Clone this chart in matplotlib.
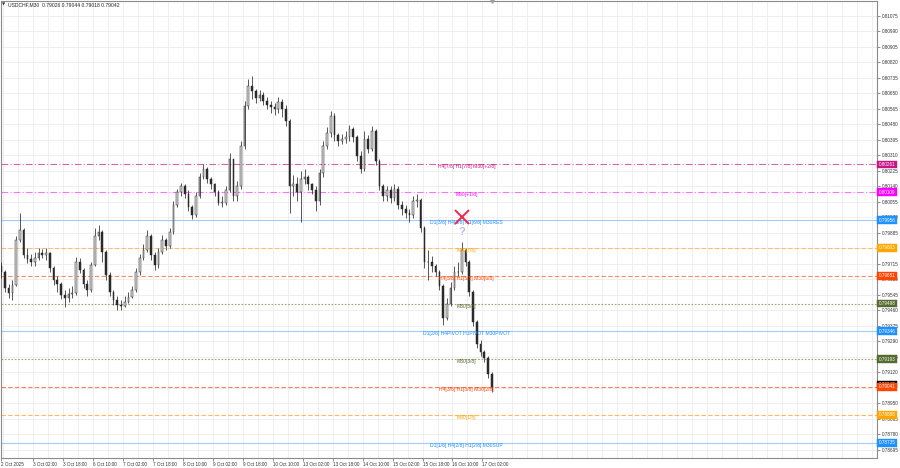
import matplotlib
matplotlib.use("Agg")
import matplotlib.pyplot as plt
from matplotlib.transforms import offset_copy, blended_transform_factory

plt.rcParams['font.family'] = ['Liberation Sans', 'DejaVu Sans']

# ---------------- data ----------------
symbol = "USDCHF,M30"
last_bar_ohlc = [0.79026, 0.79044, 0.79018, 0.79042]

# 2-hour candles (4 x M30 bars)
opens = [0.79702, 0.79669, 0.79582, 0.79554, 0.79598, 0.79844, 0.79899, 0.79762, 0.79740, 0.79724,
         0.79746, 0.79773, 0.79762, 0.79773, 0.79691, 0.79625, 0.79604, 0.79543, 0.79527, 0.79549,
         0.79554, 0.79724, 0.79680, 0.79604, 0.79571, 0.79707, 0.79866, 0.79888, 0.79779, 0.79653,
         0.79560, 0.79516, 0.79489, 0.79483, 0.79505, 0.79532, 0.79571, 0.79669, 0.79746, 0.79790,
         0.79866, 0.79762, 0.79707, 0.79779, 0.79844, 0.79811, 0.79888, 0.80036, 0.80107, 0.80140,
         0.80096, 0.80025, 0.79986, 0.80085, 0.80194, 0.80238, 0.80183, 0.80151, 0.80107, 0.80052,
         0.80052, 0.80118, 0.80293, 0.80090, 0.80145, 0.80364, 0.80583, 0.80692, 0.80665, 0.80626,
         0.80643, 0.80610, 0.80588, 0.80577, 0.80566, 0.80605, 0.80566, 0.80501, 0.80145, 0.80156,
         0.80107, 0.80183, 0.80194, 0.80151, 0.80118, 0.80063, 0.80216, 0.80364, 0.80435, 0.80528,
         0.80424, 0.80391, 0.80402, 0.80413, 0.80457, 0.80413, 0.80309, 0.80238, 0.80402, 0.80347,
         0.80446, 0.80282, 0.80145, 0.80085, 0.80118, 0.80074, 0.80128, 0.80041, 0.80019, 0.79992,
         0.79981, 0.80063, 0.80068, 0.79910, 0.79724, 0.79724, 0.79702, 0.79669, 0.79593, 0.79418,
         0.79494, 0.79582, 0.79669, 0.79669, 0.79790, 0.79724, 0.79560, 0.79396, 0.79275, 0.79232,
         0.79199, 0.79111]
closes = [0.79669, 0.79582, 0.79554, 0.79598, 0.79844, 0.79899, 0.79762, 0.79740, 0.79724, 0.79746,
          0.79773, 0.79762, 0.79773, 0.79691, 0.79625, 0.79604, 0.79543, 0.79527, 0.79549, 0.79554,
          0.79724, 0.79680, 0.79604, 0.79571, 0.79707, 0.79866, 0.79888, 0.79779, 0.79653, 0.79560,
          0.79516, 0.79489, 0.79483, 0.79505, 0.79532, 0.79571, 0.79669, 0.79746, 0.79790, 0.79866,
          0.79762, 0.79707, 0.79779, 0.79844, 0.79811, 0.79888, 0.80036, 0.80107, 0.80140, 0.80096,
          0.80025, 0.79986, 0.80085, 0.80194, 0.80238, 0.80183, 0.80151, 0.80107, 0.80052, 0.80052,
          0.80118, 0.80293, 0.80090, 0.80145, 0.80364, 0.80583, 0.80692, 0.80665, 0.80626, 0.80643,
          0.80610, 0.80588, 0.80577, 0.80566, 0.80605, 0.80566, 0.80501, 0.80145, 0.80156, 0.80107,
          0.80183, 0.80194, 0.80151, 0.80118, 0.80063, 0.80216, 0.80364, 0.80435, 0.80528, 0.80424,
          0.80391, 0.80402, 0.80413, 0.80457, 0.80413, 0.80309, 0.80238, 0.80402, 0.80347, 0.80446,
          0.80282, 0.80145, 0.80085, 0.80118, 0.80074, 0.80128, 0.80041, 0.80019, 0.79992, 0.79981,
          0.80063, 0.80068, 0.79910, 0.79724, 0.79724, 0.79702, 0.79669, 0.79593, 0.79418, 0.79494,
          0.79582, 0.79669, 0.79669, 0.79790, 0.79724, 0.79560, 0.79396, 0.79275, 0.79232, 0.79199,
          0.79111, 0.79042]
highs = [0.79724, 0.79680, 0.79604, 0.79625, 0.79866, 0.79992, 0.79910, 0.79800, 0.79768, 0.79779,
         0.79800, 0.79795, 0.79800, 0.79779, 0.79702, 0.79647, 0.79614, 0.79571, 0.79582, 0.79593,
         0.79751, 0.79746, 0.79691, 0.79625, 0.79724, 0.79910, 0.79926, 0.79899, 0.79790, 0.79669,
         0.79571, 0.79538, 0.79516, 0.79538, 0.79560, 0.79593, 0.79691, 0.79768, 0.79822, 0.79899,
         0.79877, 0.79779, 0.79800, 0.79872, 0.79855, 0.79910, 0.80063, 0.80128, 0.80161, 0.80151,
         0.80118, 0.80041, 0.80107, 0.80216, 0.80265, 0.80249, 0.80194, 0.80161, 0.80118, 0.80085,
         0.80145, 0.80326, 0.80293, 0.80172, 0.80391, 0.80610, 0.80730, 0.80747, 0.80676, 0.80670,
         0.80659, 0.80632, 0.80610, 0.80599, 0.80632, 0.80621, 0.80588, 0.80512, 0.80205, 0.80194,
         0.80227, 0.80238, 0.80205, 0.80161, 0.80140, 0.80238, 0.80391, 0.80468, 0.80555, 0.80544,
         0.80435, 0.80430, 0.80446, 0.80479, 0.80468, 0.80424, 0.80337, 0.80446, 0.80424, 0.80473,
         0.80457, 0.80293, 0.80151, 0.80140, 0.80140, 0.80151, 0.80140, 0.80063, 0.80036, 0.80019,
         0.80085, 0.80096, 0.80074, 0.79921, 0.79790, 0.79757, 0.79713, 0.79680, 0.79604, 0.79527,
         0.79614, 0.79702, 0.79724, 0.79833, 0.79800, 0.79735, 0.79571, 0.79407, 0.79297, 0.79243,
         0.79210, 0.79122]
lows = [0.79636, 0.79560, 0.79527, 0.79516, 0.79593, 0.79833, 0.79746, 0.79718, 0.79702, 0.79702,
        0.79735, 0.79746, 0.79735, 0.79669, 0.79598, 0.79560, 0.79521, 0.79478, 0.79505, 0.79527,
        0.79543, 0.79664, 0.79582, 0.79538, 0.79560, 0.79702, 0.79844, 0.79724, 0.79625, 0.79538,
        0.79489, 0.79461, 0.79461, 0.79478, 0.79500, 0.79527, 0.79560, 0.79653, 0.79735, 0.79779,
        0.79735, 0.79680, 0.79691, 0.79768, 0.79790, 0.79800, 0.79877, 0.80025, 0.80090, 0.80074,
        0.80003, 0.79959, 0.79975, 0.80074, 0.80183, 0.80161, 0.80128, 0.80085, 0.80036, 0.80030,
        0.80036, 0.80107, 0.80063, 0.80063, 0.80128, 0.80347, 0.80566, 0.80621, 0.80599, 0.80610,
        0.80588, 0.80566, 0.80544, 0.80533, 0.80544, 0.80522, 0.80473, 0.79997, 0.80085, 0.80063,
        0.79943, 0.80151, 0.80118, 0.80096, 0.80008, 0.80041, 0.80194, 0.80347, 0.80413, 0.80391,
        0.80364, 0.80375, 0.80380, 0.80391, 0.80386, 0.80282, 0.80216, 0.80227, 0.80326, 0.80337,
        0.80255, 0.80118, 0.80063, 0.80063, 0.80052, 0.80063, 0.80019, 0.79986, 0.79965, 0.79943,
        0.79965, 0.80030, 0.79888, 0.79691, 0.79625, 0.79669, 0.79647, 0.79571, 0.79379, 0.79407,
        0.79483, 0.79571, 0.79647, 0.79658, 0.79702, 0.79538, 0.79374, 0.79253, 0.79210, 0.79177,
        0.79089, 0.79013]

time_labels = ["3 Oct 02:00", "3 Oct 18:00", "6 Oct 10:00", "7 Oct 02:00", "7 Oct 18:00",
               "8 Oct 10:00", "9 Oct 02:00", "9 Oct 18:00", "10 Oct 10:00", "13 Oct 02:00",
               "13 Oct 18:00", "14 Oct 10:00", "15 Oct 02:00", "15 Oct 18:00", "16 Oct 10:00",
               "17 Oct 02:00"]
first_time_label = "2 Oct 2025"

price_ticks = [0.81075, 0.80990, 0.80905, 0.80820, 0.80735, 0.80650, 0.80565, 0.80480, 0.80395,
               0.80310, 0.80225, 0.80140, 0.80055, 0.79970, 0.79885, 0.79800, 0.79715, 0.79630,
               0.79545, 0.79460, 0.79375, 0.79290, 0.79205, 0.79120, 0.79035, 0.78950, 0.78865,
               0.78780, 0.78695]

levels = [0.80261, 0.80109, 0.79956, 0.79803, 0.79651, 0.79498, 0.79346, 0.79193, 0.79041,
          0.78888, 0.78735]
level_names = ["H4[7/8] H1[7/8] M30[+2/8]", "M30[+1/8]", "D1[3/8] H4[6/8] H1[6/8] M30RES",
               "M30[7/8]", "H4[5/8] H1[5/8] M30[6/8]", "M30[5/8]",
               "D1[2/8] H4PIVOT H1PIVOT M30PIVOT", "M30[3/8]", "H4[3/8] H1[3/8] M30[2/8]",
               "M30[1/8]", "D1[1/8] H4[2/8] H1[2/8] M30SUP"]

# ---------------- styles ----------------
level_colors = ["#c71585", "#ff00ff", "#1e90ff", "#ffa500", "#ff4500", "#556b2f",
                "#1e90ff", "#556b2f", "#ff4500", "#ffa500", "#1e90ff"]
line_colors = ["#e060a8", "#ff70ff", "#9fcbff", "#ffbb70", "#ff8868", "#9aa57a",
               "#9fcbff", "#9aa57a", "#ff8060", "#ffb860", "#9fcbff"]
line_styles = [(0, (6, 2, 1, 2)), (0, (6, 2, 1, 2)), '-', (0, (4, 2)), (0, (4, 2)), (0, (1.5, 1.5)),
               '-', (0, (1.5, 1.5)), (0, (4, 2)), (0, (4, 2)), '-']

BARS_PER_CANDLE = 4
FIRST_BAR = -34           # bar index of first candle relative to first time label
LABEL_STEP = 32           # bars between time labels
PX_PER_BAR = 0.9375

fig = plt.figure(figsize=(9, 4.68), dpi=100)
fig.patch.set_facecolor('white')
ax = fig.add_axes([1 / 900, 10 / 468, 876 / 900, 457 / 468])
ax.set_facecolor('white')

x_left = -32 / PX_PER_BAR
x_right = (877 - 32) / PX_PER_BAR
ax.set_xlim(x_left, x_right)
ax.set_ylim(0.78651, 0.81157)

# grid
grid_c = '#ececec'
gx = -32
while gx < x_right:
    ax.axvline(gx, color=grid_c, lw=0.6, zorder=0)
    gx += 16
for p in price_ticks:
    ax.axhline(p, color=grid_c, lw=0.6, zorder=0)

# levels
for lv, lc, ls in zip(levels, line_colors, line_styles):
    ax.axhline(lv, color=lc, lw=0.8, ls=ls, zorder=1)

# candles
xs = [FIRST_BAR + BARS_PER_CANDLE * j for j in range(len(closes))]
ax.vlines(xs, lows, highs, color='#2a2a2a', lw=0.55, zorder=3)
bull_x, bull_b, bull_h, bear_x, bear_b, bear_h = [], [], [], [], [], []
for x, o, c in zip(xs, opens, closes):
    if c >= o:
        bull_x.append(x); bull_b.append(o); bull_h.append(max(c - o, 0.00002))
    else:
        bear_x.append(x); bear_b.append(c); bear_h.append(max(o - c, 0.00002))
ax.bar(bull_x, bull_h, bottom=bull_b, width=1.8, facecolor='#d8d8d8', edgecolor='#2a2a2a',
       lw=0.35, zorder=4)
ax.bar(bear_x, bear_h, bottom=bear_b, width=1.8, facecolor='#2a2a2a', edgecolor='#2a2a2a',
       lw=0.35, zorder=4)

# level labels in chart
label_x = (466 - 32) / PX_PER_BAR
for lv, name, col in zip(levels, level_names, level_colors):
    ax.annotate(name, xy=(label_x, lv), xytext=(0, -1.8), textcoords='offset points',
                ha='center', va='center', fontsize=3.6, color=col, zorder=6)

# X and ? marks at the reversal near the RES level
peak_j = 123
tr_x = offset_copy(ax.transData, fig=fig, x=0, y=2.2, units='points')
ax.plot([xs[peak_j]], [levels[2]], marker='x', ms=10, mew=1.4, color='#f0284e',
        transform=tr_x, zorder=7)
ax.annotate('?', xy=(xs[peak_j], levels[2]), xytext=(0, -8.5), textcoords='offset points',
            ha='center', va='center', fontsize=8, fontweight='bold', color='#c4b8ea', zorder=7)

# axes styling
for s in ax.spines.values():
    s.set_color('#8a8a8a')
    s.set_linewidth(0.8)
ax.yaxis.tick_right()
ax.set_yticks(price_ticks)
# tick labels fully covered by a level box are left blank, as in the reference
ax.set_yticklabels(["" if min(abs(p - lv) for lv in levels) < 0.00008 else f"{p:.5f}"
                    for p in price_ticks])
ax.tick_params(axis='y', length=2, width=0.5, colors='#606060', labelsize=3.3, pad=1.5,
               labelcolor='#333333')

xt = [x_left + 0.3] + [LABEL_STEP * i for i in range(len(time_labels))]
ax.set_xticks(xt)
ax.set_xticklabels([first_time_label] + time_labels)
for lab in ax.get_xticklabels():
    lab.set_ha('left')
ax.tick_params(axis='x', length=2, width=0.5, colors='#606060', labelsize=3.3, pad=1.2,
               labelcolor='#333333')

# price boxes on right axis
ytr = blended_transform_factory(ax.transAxes, ax.transData)
cur_price = last_bar_ohlc[3]
ax.annotate(f"{cur_price:.5f}", xy=(1.0, cur_price), xycoords=ytr, xytext=(1.2, 1.6),
            textcoords='offset points', ha='left', va='center', fontsize=3.3, color='white',
            bbox=dict(boxstyle='square,pad=0.3', fc='black', ec='black', lw=0.3),
            annotation_clip=False, zorder=9)
for lv, col in zip(levels, level_colors):
    ax.annotate(f"{lv:.5f}", xy=(1.0, lv), xycoords=ytr, xytext=(1.2, 0),
                textcoords='offset points', ha='left', va='center', fontsize=3.3, color='white',
                bbox=dict(boxstyle='square,pad=0.3', fc=col, ec=col, lw=0.3),
                annotation_clip=False, zorder=10)

# header
fig.text(2 / 900, 1 - 5 / 468, "\u25bc", fontsize=3, color='#333333', va='center',
         family='DejaVu Sans')
header = f"{symbol}  " + " ".join(f"{v:.5f}" for v in last_bar_ohlc)
fig.text(8 / 900, 1 - 5 / 468, header, fontsize=3.6, color='#222222', va='center')

# chart shift marker at top
xtr = blended_transform_factory(ax.transData, ax.transAxes)
ax.plot([xs[-1]], [1.0], marker='v', ms=2.5, color='#a0a0a0', transform=xtr, clip_on=False,
        zorder=8)

fig.savefig("out.png", dpi=100, facecolor='white')
